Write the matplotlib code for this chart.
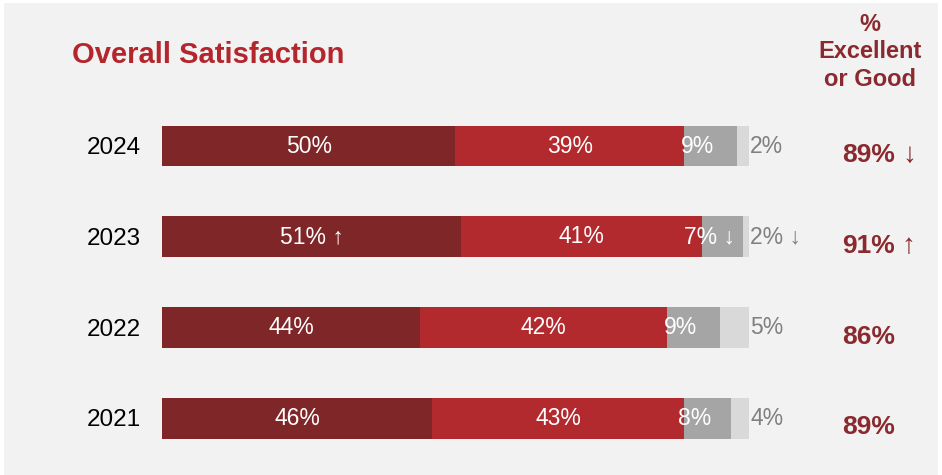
import matplotlib.pyplot as plt
from matplotlib.patches import Rectangle

plt.rcParams['font.family'] = ['Liberation Sans', 'DejaVu Sans']

years = ['2024', '2023', '2022', '2021']
excellent = [50, 51, 44, 46]
good = [39, 41, 42, 43]
fair = [9, 7, 9, 8]
poor = [2, 2, 5, 4]
exc_lbl = ['50%', '51% ↑', '44%', '46%']
good_lbl = ['39%', '41%', '42%', '43%']
fair_lbl = ['9%', '7% ↓', '9%', '8%']
poor_lbl = ['2%', '2% ↓', '5%', '4%']
top2 = ['89%', '91%', '86%', '89%']
top2_arrow = ['↓', '↑', '', '']

c_exc = '#7f2629'
c_good = '#b2292e'
c_fair = '#a5a5a5'
c_poor = '#d9d9d9'
c_head = '#8a2a2e'

W, H = 942, 475
fig = plt.figure(figsize=(W / 100, H / 100), dpi=100, facecolor='white')
fig.patches.append(Rectangle((4 / W, 0), 1 - 8 / W, 1 - 3 / H, transform=fig.transFigure,
                             facecolor='#f2f2f2', edgecolor='none', zorder=-10))

# bar axes: x 0..100 -> px 162..749, rows centred 146..418 px
top_px, bot_px = 100.6, 463.9
ax = fig.add_axes([162 / W, 1 - bot_px / H, 587 / W, (bot_px - top_px) / H])
ax.set_xlim(0, 100)
ax.set_ylim(3.5, -0.5)
ax.axis('off')

ypos = list(range(len(years)))
h = 0.45
left = [0] * len(years)
for vals, col in [(excellent, c_exc), (good, c_good), (fair, c_fair), (poor, c_poor)]:
    ax.barh(ypos, vals, left=left, height=h, color=col, edgecolor='none')
    left = [l + v for l, v in zip(left, vals)]

fs = 16.5
for i in ypos:
    x0 = 0
    ax.text(x0 + excellent[i] / 2, i, exc_lbl[i], color='white', fontsize=fs,
            ha='center', va='center')
    x0 += excellent[i]
    ax.text(x0 + good[i] / 2, i, good_lbl[i], color='white', fontsize=fs,
            ha='center', va='center')
    x0 += good[i]
    ax.text(x0 + fair[i] / 2 - 2.2, i, fair_lbl[i], color='white', fontsize=fs,
            ha='center', va='center', clip_on=False)
    ax.text(100.2, i, poor_lbl[i], color='#808080', fontsize=fs,
            ha='left', va='center', clip_on=False)

    yc = 1 - (top_px + (i + 0.5) * (bot_px - top_px) / len(years)) / H
    fig.text(141 / W, yc - 2 / H, years[i], fontsize=17.5, color='black',
             ha='right', va='center')
    t = fig.text(842 / W, yc - 9 / H, top2[i], fontsize=19, fontweight='bold',
                 color=c_head, ha='left', va='center')
    if top2_arrow[i]:
        ax.annotate(top2_arrow[i], xy=(1, 0.5), xycoords=t, xytext=(5, 0),
                    textcoords='offset points', fontsize=20, color=c_head,
                    ha='left', va='center', annotation_clip=False)

fig.text(72 / W, 1 - 55 / H, 'Overall Satisfaction', fontsize=21, fontweight='bold',
         color='#b3262c', ha='left', va='center')
fig.text(870 / W, 1 - 52 / H, '%\nExcellent\nor Good', fontsize=17, fontweight='bold',
         color=c_head, ha='center', va='center', multialignment='center', linespacing=1.27)

fig.savefig('out.png', dpi=100, facecolor=fig.get_facecolor())
